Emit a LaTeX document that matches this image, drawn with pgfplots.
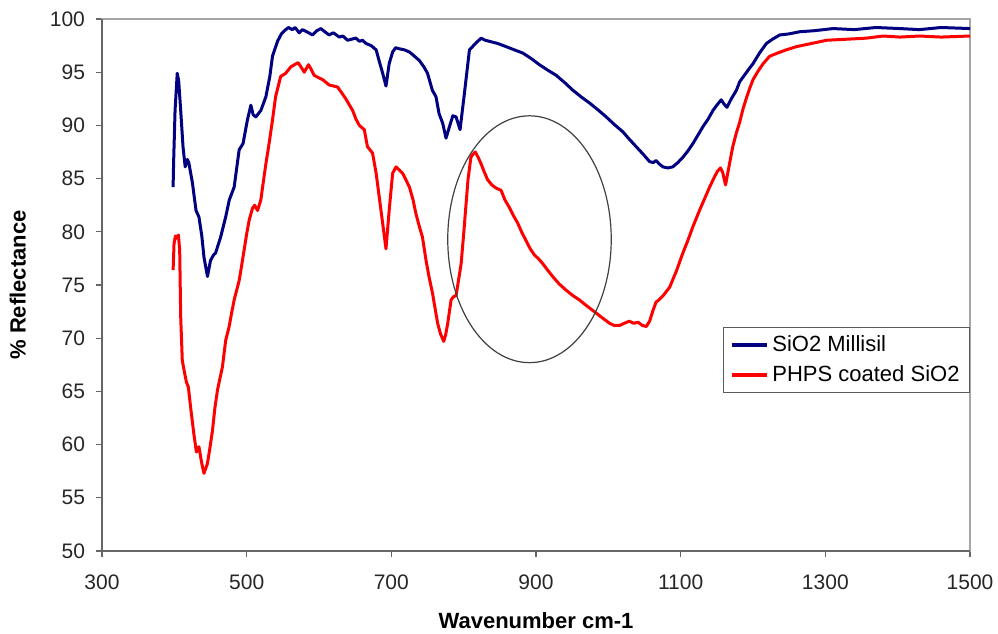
\documentclass[border=0pt]{standalone}
\usepackage{pgfplots}
\pgfplotsset{compat=1.18}
\usepackage{fontspec}
\setmainfont{Liberation Sans}

\definecolor{navyline}{RGB}{0,0,128}
\definecolor{redline}{RGB}{255,0,0}

\begin{document}
\begin{tikzpicture}
\begin{axis}[
    scale only axis,
    width=434pt, height=266pt,
    xmin=300, xmax=1500,
    ymin=50, ymax=100,
    xtick={300,500,...,1500},
    ytick={50,55,...,100},
    xtick pos=bottom, ytick pos=left,
    /pgf/number format/assume math mode=true,
    /pgf/number format/1000 sep={},
    tick label style={font=\fontsize{10.5}{12}\selectfont, text=black!85},
    xticklabel style={yshift=-5.5pt},
    yticklabel style={xshift=-2pt},
    tick align=outside,
    major tick length=3pt,
    tick style={black!60, line width=0.6pt},
    axis line style={draw=black!35, line width=0.6pt},
    xlabel={\bfseries Wavenumber cm-1},
    ylabel={\bfseries \% Reflectance},
    label style={font=\fontsize{11}{13}\selectfont},
    xlabel style={at={(axis description cs:0.5,-0.130)}, anchor=center},
    ylabel style={at={(axis description cs:-0.097,0.5)}, anchor=center},
    legend style={at={(rel axis cs:1,0.421)}, anchor=north east,
        draw=black!65, line width=0.5pt, fill=white,
        font=\fontsize{11}{13}\selectfont,
        row sep=1.5pt, inner xsep=3pt, inner ysep=2pt},
    legend cell align=left,
    legend image code/.code={\draw[#1, line width=1.8pt] (0pt,0pt) -- (17.5pt,0pt);},
]

% SiO2 Millisil
\addplot[navyline, line width=1.5pt, line join=round] coordinates {
(398.3,84.2) (399,86.5) (401,91.4) (404,94.9) (406,94.2) (409,91.2) (412,88.0)
(415,86.1) (418,86.8) (420,86.5) (425,84.6) (430,82.0) (434,81.4) (438,79.6)
(441,77.6) (445.8,75.8) (450,77.3) (454,77.8) (457,78.0) (464,79.5) (471,81.4)
(476,83.0) (482.7,84.2) (489.6,87.7) (495,88.3) (501,90.5) (505.8,91.9)
(509,91.0) (512.7,90.8) (519.6,91.4) (526.6,92.7) (532,94.6) (535.7,96.5)
(542.6,97.9) (548,98.6) (554,99.0) (558,99.2) (563,99.0) (567,99.2)
(572.6,98.7) (577,99.0) (583,98.8) (591,98.5) (597,98.9) (602.6,99.1)
(608,98.8) (614,98.5) (620,98.7) (628,98.3) (633,98.4) (639.5,98.0)
(645,98.1) (651,98.2) (656,97.9) (660,98.0) (665,97.7) (672,97.5)
(679,97.1) (683,96.1) (688,94.9) (692.6,93.7) (697,95.8) (701.8,96.9)
(706,97.3) (711,97.2) (718,97.1) (725,96.9) (732,96.5) (738.7,96.1)
(745,95.5) (750,94.9) (756.7,93.3) (761.7,92.7) (766,91.1) (771,90.2)
(775.6,88.8) (780,89.8) (785,90.9) (789.5,90.8) (795,89.6) (801,93.0)
(808,97.1) (815,97.6) (824,98.2) (830,98.0) (835.6,97.9) (847,97.7)
(858.7,97.4) (870,97.1) (881.7,96.8) (893,96.3) (904.8,95.7) (916,95.2)
(928,94.7) (940,94.0) (951,93.3) (962,92.7) (974,92.1) (985,91.5)
(997,90.8) (1008,90.1) (1020,89.4) (1029,88.7) (1038.5,88.0) (1048,87.3)
(1057,86.6) (1062,86.5) (1066,86.7) (1070,86.4) (1075.5,86.1) (1082,86.0)
(1089,86.1) (1096,86.5) (1103,87.0) (1110,87.6) (1117,88.3) (1124,89.1)
(1131,89.9) (1138,90.6) (1144.6,91.4) (1150,91.9) (1156,92.4) (1160,92.0)
(1164,91.7) (1170,92.5) (1177,93.3) (1181.6,94.1) (1189,94.8) (1195.5,95.4)
(1200,95.8) (1209,96.8) (1218.5,97.7) (1227,98.1) (1237,98.5) (1250,98.6)
(1264.5,98.8) (1285,98.9) (1310.8,99.1) (1340,99.0) (1370,99.2) (1403,99.1)
(1430,99.0) (1460,99.2) (1500,99.1)
};
\addlegendentry{SiO2 Millisil}

% PHPS coated SiO2
\addplot[redline, line width=1.5pt, line join=round] coordinates {
(398.3,76.4) (399.6,78.9) (401.5,79.6) (403,79.4) (405.6,79.7) (407.4,78.3)
(408.8,72.0) (411,67.9) (414,66.8) (416.6,65.9) (419.4,65.4) (422.7,63.4)
(427,61.0) (430.5,59.3) (434,59.8) (438,58.2) (441,57.3) (445.7,58.2)
(449,59.6) (452.7,61.3) (456,63.4) (459.6,65.1) (463,66.2) (466.5,67.3)
(471,69.8) (475.8,71.1) (479,72.3) (482.7,73.6) (489.6,75.4) (493,76.8)
(496.5,78.3) (500,79.8) (503.5,81.1) (508,82.2) (511,82.5) (515,82.0)
(519.6,83.0) (522,84.2) (526.6,86.4) (531,88.3) (535.7,90.5) (540,92.7)
(547,94.6) (554,94.9) (561,95.5) (566,95.7) (571,95.9) (575,95.5)
(579.6,95.0) (585.5,95.7) (589,95.3) (593.4,94.7) (599,94.5) (605,94.3)
(614,93.8) (620,93.7) (625.7,93.6) (631,93.1) (637,92.5) (646.5,91.4)
(651,90.6) (655.7,90.0) (662.6,89.6) (667,88.0) (674,87.4) (679,85.5)
(685.7,82.0) (692.6,78.4) (697,82.0) (701.8,85.5) (706.5,86.1) (711,85.8)
(715.6,85.5) (720,84.9) (725,84.2) (730,83.0) (734,81.7) (738.7,80.5)
(743,79.5) (748,77.3) (752,75.8) (757,74.2) (764,71.4) (768,70.4)
(772.4,69.7) (775,70.3) (778,71.4) (782.6,73.6) (786,73.9) (789.5,74.0)
(796.5,77.0) (800,79.8) (803.4,82.7) (806,84.9) (810,87.0) (813,87.3)
(816,87.5) (820,87.0) (824,86.4) (828,85.7) (833,84.9) (839,84.4)
(845,84.1) (851.7,83.9) (857,83.0) (863,82.3) (869,81.5) (874.8,80.8)
(880,80.0) (886,79.2) (892,78.4) (898,77.8) (903,77.5) (909.4,77.0)
(916,76.4) (923,75.8) (932,75.1) (941.8,74.5) (951,74.0) (960,73.6)
(969,73.1) (978.6,72.6) (990,72.0) (1001.7,71.4) (1008,71.2) (1015.6,71.2)
(1022,71.4) (1029,71.6) (1035,71.4) (1041,71.5) (1047,71.2) (1052.5,71.1)
(1057,71.6) (1061.7,72.6) (1066,73.4) (1070,73.6) (1077,74.1) (1084.8,74.8)
(1094,76.3) (1103,78.0) (1110,79.2) (1117,80.5) (1126,82.0) (1133,83.1)
(1140,84.2) (1147,85.2) (1151,85.7) (1155,86.0) (1158,85.6) (1162,84.4)
(1167,86.2) (1172,88.0) (1177,89.3) (1181.6,90.3) (1186,91.5) (1191,92.6)
(1195.5,93.5) (1200,94.3) (1207,95.1) (1214,95.8) (1223,96.5) (1234,96.8)
(1246,97.1) (1260,97.4) (1274,97.6) (1288,97.8) (1301.6,98.0) (1330,98.1)
(1357,98.2) (1380,98.4) (1403,98.3) (1430,98.4) (1460,98.3) (1500,98.4)
};
\addlegendentry{PHPS coated SiO2}

% annotation ellipse
\draw[black!75, line width=0.6pt] (axis cs:891,79.3) ellipse [x radius=113, y radius=11.6];
\end{axis}

% darker left and bottom axis lines
\draw[black!60, line width=0.8pt] (current axis.north west) -- (current axis.south west) -- (current axis.south east);

\pgfresetboundingbox
\path ([shift={(-51pt,-41.5pt)}]current axis.south west) rectangle ([shift={(14pt,9.5pt)}]current axis.north east);
\end{tikzpicture}
\end{document}
